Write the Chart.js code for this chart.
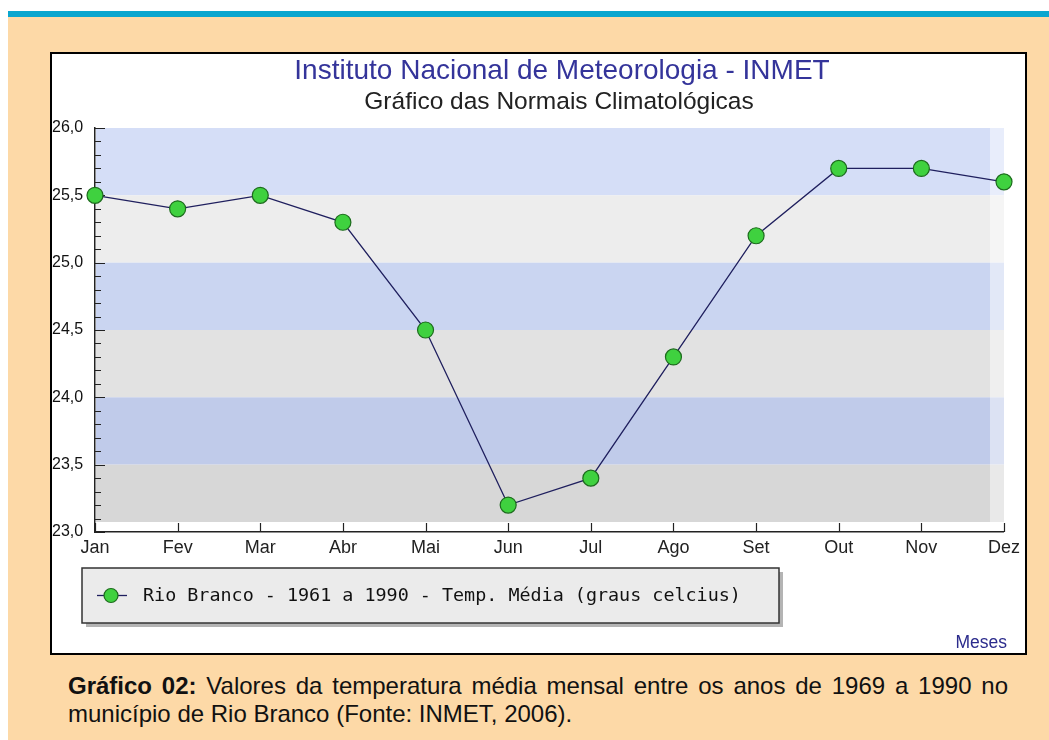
<!DOCTYPE html>
<html>
<head>
<meta charset="utf-8">
<script src="https://cdn.jsdelivr.net/npm/chart.js@4"></script>
<style>
  body { margin: 0; width: 1049px; height: 740px; background: #fff; position: relative; overflow: hidden; }
  #page { position: absolute; left: 8px; top: 11px; width: 1041px; height: 729px; background: #fdd9a7; border-top: 6px solid #0aa6cf; box-sizing: border-box; }
  #box { position: absolute; left: 50px; top: 52px; width: 973px; height: 599px; border: 2px solid #000; background: #fff; }
  #box canvas { display: block; }
  .cap { position: absolute; left: 68px; width: 940px; font: 24px "Liberation Sans", Arial, sans-serif; line-height: 25px; color: #111; white-space: nowrap; }
  #cap1 { top: 673px; text-align: justify; text-align-last: justify; white-space: normal; }
  #cap2 { top: 701px; }
</style>
</head>
<body>
<div id="page"></div>
<div id="box"><canvas id="grafico" width="973" height="599"></canvas></div>
<div class="cap" id="cap1"><b>Gráfico 02:</b> Valores da temperatura média mensal entre os anos de 1969 a 1990 no</div>
<div class="cap" id="cap2">município de Rio Branco (Fonte: INMET, 2006).</div>
<script>
const meses = ["Jan", "Fev", "Mar", "Abr", "Mai", "Jun", "Jul", "Ago", "Set", "Out", "Nov", "Dez"];
const tempMedia = [25.5, 25.4, 25.5, 25.3, 24.5, 23.2, 23.4, 24.3, 25.2, 25.7, 25.7, 25.6];
const yRotulos = [23.0, 23.5, 24.0, 24.5, 25.0, 25.5, 26.0];
const serieNome = "Rio Branco - 1961 a 1990 - Temp. Média (graus celcius)";
const titulo = "Instituto Nacional de Meteorologia - INMET";
const subtitulo = "Gráfico das Normais Climatológicas";

const ehRotulo = (v) => yRotulos.some((r) => Math.abs(r - v) < 1e-6);

// faixas azul / cinza atras do grafico
const faixas = {
  id: "faixas",
  beforeDatasetsDraw(chart) {
    const { ctx, chartArea, scales } = chart;
    const y = scales.y;
    const azul = ["#d5def7", "#cad5f1", "#c0cbea"];
    const cinza = ["#ededed", "#e2e2e2", "#d7d7d7"];
    ctx.save();
    for (let i = yRotulos.length - 1; i > 0; i--) {
      const k = yRotulos.length - 1 - i;
      const top = y.getPixelForValue(yRotulos[i]);
      let bottom = y.getPixelForValue(yRotulos[i - 1]);
      if (i === 1) bottom -= 10;
      ctx.fillStyle = k % 2 === 0 ? azul[Math.floor(k / 2)] : cinza[Math.floor(k / 2)];
      ctx.fillRect(chartArea.left + 1, top, chartArea.right - chartArea.left - 1, bottom - top);
    }
    ctx.fillStyle = "rgba(255,255,255,0.45)";
    ctx.fillRect(chartArea.right - 14, chartArea.top, 14, chartArea.bottom - chartArea.top - 10);

    // marcas dos eixos para dentro
    ctx.strokeStyle = "#222";
    ctx.lineWidth = 1.2;
    ctx.beginPath();
    y.ticks.forEach((t) => {
      const py = Math.round(y.getPixelForValue(t.value)) + 0.5;
      const len = ehRotulo(t.value) ? 10 : 6;
      ctx.moveTo(chartArea.left, py);
      ctx.lineTo(chartArea.left + len, py);
    });
    const x = scales.x;
    x.ticks.forEach((t, i) => {
      const px = Math.round(x.getPixelForTick(i)) + 0.5;
      ctx.moveTo(px, chartArea.bottom);
      ctx.lineTo(px, chartArea.bottom - 9);
    });
    ctx.stroke();
    ctx.restore();
  },
  afterDraw(chart) {
    const { ctx, chartArea } = chart;
    const ds = chart.data.datasets[0];
    ctx.save();
    // titulos
    ctx.textAlign = "center";
    ctx.textBaseline = "middle";
    ctx.fillStyle = "#34349a";
    ctx.font = '28px "Liberation Sans", Arial, sans-serif';
    ctx.fillText(titulo, 510, 17);
    ctx.fillStyle = "#222";
    ctx.font = '24.5px "Liberation Sans", Arial, sans-serif';
    ctx.fillText(subtitulo, 507, 48);

    // legenda
    const bx = chartArea.left - 13;
    const by = chartArea.bottom + 36;
    const bw = 697;
    const bh = 55;
    ctx.textAlign = "left";
    ctx.fillStyle = "#b4b4b4";
    ctx.fillRect(bx + 4, by + 4, bw, bh);
    ctx.fillStyle = "#ebebeb";
    ctx.fillRect(bx, by, bw, bh);
    ctx.strokeStyle = "#333";
    ctx.lineWidth = 1.5;
    ctx.strokeRect(bx, by, bw, bh);
    const my = by + bh / 2;
    ctx.strokeStyle = ds.borderColor;
    ctx.lineWidth = 1.3;
    ctx.beginPath();
    ctx.moveTo(bx + 15, my);
    ctx.lineTo(bx + 45, my);
    ctx.stroke();
    ctx.fillStyle = ds.pointBackgroundColor;
    ctx.strokeStyle = ds.pointBorderColor;
    ctx.lineWidth = ds.pointBorderWidth;
    Chart.helpers.drawPoint(ctx, { pointStyle: ds.pointStyle, radius: 7, rotation: 0, borderWidth: ds.pointBorderWidth }, bx + 29, my);
    ctx.fillStyle = "#111";
    ctx.font = '18.4px "DejaVu Sans Mono", monospace';
    ctx.fillText(ds.label, bx + 61, my + 1);

    ctx.fillStyle = "#2b2b8c";
    ctx.font = '17.5px "Liberation Sans", Arial, sans-serif';
    ctx.textAlign = "right";
    ctx.fillText("Meses", chartArea.right + 3, chartArea.bottom + 111);
    ctx.restore();
  },
};

new Chart(document.getElementById("grafico"), {
  type: "line",
  data: {
    labels: meses,
    datasets: [
      {
        label: serieNome,
        data: tempMedia,
        borderColor: "#1f1f5e",
        borderWidth: 1.3,
        tension: 0,
        pointStyle: "circle",
        pointRadius: 8,
        pointHoverRadius: 8,
        pointBackgroundColor: "#3fd13f",
        pointBorderColor: "#1d6b1d",
        pointBorderWidth: 1.2,
        clip: false,
      },
    ],
  },
  options: {
    responsive: false,
    animation: false,
    layout: { padding: { left: 0, right: 18, top: 74, bottom: 83 } },
    plugins: {
      legend: { display: false },
      tooltip: { enabled: false },
    },
    scales: {
      x: {
        offset: false,
        grid: { drawOnChartArea: false, drawTicks: false },
        border: { display: true, color: "#222", width: 1.5 },
        ticks: {
          color: "#222",
          padding: 5,
          maxRotation: 0,
          font: { family: '"Liberation Sans", Arial, sans-serif', size: 18 },
        },
        afterFit: (s) => { s.height = 38; },
      },
      y: {
        min: 23,
        max: 26,
        grid: { drawOnChartArea: false, drawTicks: false },
        border: { display: true, color: "#222", width: 1.5 },
        ticks: {
          stepSize: 0.1,
          autoSkip: false,
          crossAlign: "far",
          color: "#111",
          font: { family: '"Liberation Sans", Arial, sans-serif', size: 16 },
          callback: (v) => (ehRotulo(v) ? v.toFixed(1).replace(".", ",") : ""),
        },
        afterFit: (s) => { s.width = 43; },
      },
    },
  },
  plugins: [faixas],
});
</script>
</body>
</html>
